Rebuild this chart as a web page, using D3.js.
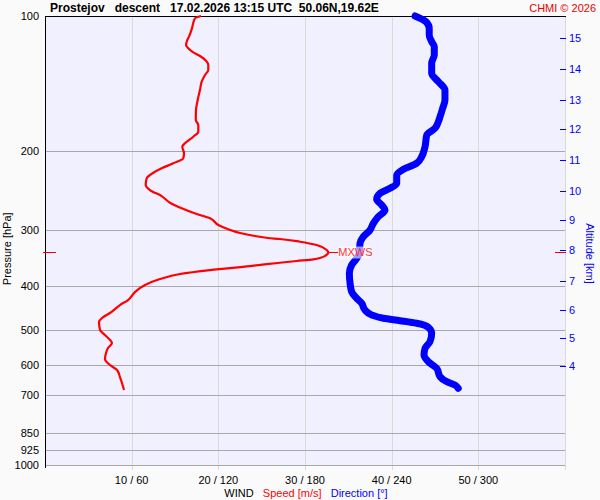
<!DOCTYPE html>
<html>
<head>
<meta charset="utf-8">
<script src="https://cdn.jsdelivr.net/npm/d3@7"></script>
<style>
  body { margin: 0; background: #fafafa; }
  svg { display: block; font-family: "Liberation Sans", Arial, sans-serif; }
</style>
</head>
<body>
<svg width="600" height="500"></svg>
<script>

// wind speed profile [hPa, m/s]
const speedP = [100, 101.2, 103.8, 107.4, 110.2, 114.1, 116.0, 118.0, 120.5, 122.8, 125.8, 128.6, 131.9, 135.3, 140.0,
   146.2, 153.8, 162.0, 170.4, 174.9, 181.0, 185.7, 192.1, 195.5, 202.2, 207.4, 212.8, 218.4, 223.4, 229.9, 237.9,
   244.1, 251.8, 260.5, 268.1, 276.1, 282.2, 292.1, 298.6, 304.3, 309.0, 312.2, 313.8, 318.2, 323.6, 332.0, 336.0,
   342.4, 348.3, 351.3, 354.4, 360.5, 368.0, 375.5, 385.3, 397.3, 411.9, 429.1, 440.3, 458.7, 470.6, 480.4, 500.5,
   513.5, 526.8, 535.0, 548.9, 563.1, 580.7, 598.9, 614.4, 636.9, 656.8, 680.8]
const speed = [18.0, 17.3, 17.1, 16.9, 16.7, 16.35, 16.27, 16.53, 17.11, 17.88, 18.58, 18.84, 18.84, 18.46, 18.08,
   17.88, 17.62, 17.42, 17.4, 17.69, 17.69, 17.11, 16.15, 15.84, 16.04, 15.96, 14.8, 13.46, 12.5, 11.73, 11.62,
   12.11, 13.46, 14.42, 15.77, 17.5, 19.04, 20.0, 21.15, 22.5, 24.23, 25.73, 27.11, 29.42, 31.35, 32.5, 32.69,
   32.3, 30.96, 29.04, 27.11, 23.65, 19.04, 15.58, 13.27, 11.54, 10.38, 9.58, 8.65, 7.5, 6.58, 6.23, 6.35,
   6.92, 7.5, 7.73, 7.27, 7.04, 6.92, 7.5, 8.31, 8.65, 8.88, 9.12]

// wind direction profile [hPa, deg]
const dirP = [100, 103.0, 106.5, 110.2, 114.1, 117.0, 122.1, 127.4, 134.2, 140.0, 146.2, 153.8, 160.6, 167.6, 172.0,
   177.9, 184.1, 195.5, 205.7, 212.8, 219.5, 226.1, 235.9, 242.0, 248.3, 256.0, 263.6, 270.4, 279.9, 289.6, 299.7,
   310.1, 320.8, 337.7, 346.5, 358.6, 374.1, 393.9, 411.2, 425.4, 436.5, 451.7, 463.4, 471.3, 477.1, 483.5, 493.5,
   509.0, 531.4, 549.7, 568.9, 588.8, 609.1, 635.9, 652.4, 663.5, 674.9]
const direction = [256.2, 263.8, 266.0, 266.0, 267.7, 269.5, 269.5, 267.7, 267.7, 272.3, 276.9, 276.9, 275.3, 273.5, 272.3,
   270.0, 264.3, 263.1, 260.8, 257.3, 248.1, 243.5, 243.5, 238.8, 231.9, 229.6, 233.1, 235.4, 230.7, 227.3, 225.0,
   220.4, 218.1, 217.6, 215.8, 212.3, 210.7, 211.2, 212.3, 215.8, 219.3, 221.5, 226.2, 234.2, 245.8, 257.3, 265.4,
   267.7, 266.5, 263.1, 262.4, 265.4, 271.2, 273.5, 278.1, 283.8, 286.1]

const pressureTicks = [100, 200, 300, 400, 500, 600, 700, 850, 925, 1000]
const speedTicks = [10, 20, 30, 40, 50]
const altKm = [15, 14, 13, 12, 11, 10, 9, 8, 7, 6, 5, 4]
const altP = [112.1, 131.4, 153.8, 178.5, 209.3, 244.9, 284.6, 332.0, 389.2, 451.7, 522.2, 602.0]

const title = "Prostejov   descent   17.02.2026 13:15 UTC  50.06N,19.62E"

const pLeft = 45, pRight = 565, pTop = 16, pBottom = 465

const svg = d3.select("svg")

const x = d3.scaleLinear().domain([0, 60]).range([pLeft, pRight])
const xd = d3.scaleLinear().domain([0, 360]).range([pLeft, pRight])
const y = d3.scaleLog().domain([100, 1000]).range([pTop, pBottom])

svg.append("rect")
   .attr("x", pLeft).attr("y", pTop)
   .attr("width", pRight - pLeft).attr("height", pBottom - pTop)
   .attr("fill", "#f0f0ff")

// vertical grid
svg.append("g")
   .selectAll("line")
   .data(speedTicks.concat([60]))
   .join("line")
   .attr("x1", d => Math.round(x(d)) + 0.5).attr("x2", d => Math.round(x(d)) + 0.5)
   .attr("y1", pTop).attr("y2", pBottom + 5)
   .attr("stroke", "#d9d9d9")

// pressure lines
svg.append("g")
   .selectAll("line")
   .data(pressureTicks.slice(1))
   .join("line")
   .attr("x1", pLeft).attr("x2", pRight)
   .attr("y1", d => Math.round(y(d)) + 0.5).attr("y2", d => Math.round(y(d)) + 0.5)
   .attr("stroke", "#a8a8a8")

svg.append("line")
   .attr("x1", pLeft).attr("x2", pRight + 1)
   .attr("y1", pTop + 0.5).attr("y2", pTop + 0.5)
   .attr("stroke", "#000")
svg.append("line")
   .attr("x1", pLeft + 0.5).attr("x2", pLeft + 0.5)
   .attr("y1", pTop).attr("y2", pBottom + 3)
   .attr("stroke", "#000")

svg.append("g")
   .attr("font-size", "11px")
   .attr("text-anchor", "end")
   .selectAll("text")
   .data(pressureTicks)
   .join("text")
   .attr("x", 39)
   .attr("y", d => y(d))
   .attr("dy", "0.35em")
   .text(d => d)

svg.append("g")
   .attr("font-size", "11px")
   .attr("text-anchor", "middle")
   .selectAll("text")
   .data(speedTicks)
   .join("text")
   .attr("x", d => x(d))
   .attr("y", 483.5)
   .text(d => `${d} / ${Math.round(xd.invert(x(d)))}`)

const legend = svg.append("text")
   .attr("font-size", "11px")
   .attr("text-anchor", "middle")
   .attr("x", 306).attr("y", 497)
   .attr("xml:space", "preserve")
legend.append("tspan").attr("fill", "#000").text("WIND   ")
legend.append("tspan").attr("fill", "#f00").text("Speed [m/s]   ")
legend.append("tspan").attr("fill", "#00f").text("Direction [°]")

svg.append("text")
   .attr("font-size", "11px")
   .attr("text-anchor", "middle")
   .attr("transform", `translate(11,${y(330)}) rotate(-90)`)
   .text("Pressure [hPa]")

// altitude axis
const alt = svg.append("g")
   .selectAll("g")
   .data(altKm.map((k, i) => ({ k, p: altP[i] })))
   .join("g")
   .attr("transform", d => `translate(0,${Math.round(y(d.p)) + 0.5})`)
alt.append("line")
   .attr("x1", pRight - 5).attr("x2", pRight + 1)
   .attr("stroke", "#00f")
alt.append("text")
   .attr("x", pRight + 4)
   .attr("dy", "0.35em")
   .attr("font-size", "11px")
   .attr("fill", "#00f")
   .text(d => d.k)

svg.append("text")
   .attr("font-size", "11px")
   .attr("fill", "#00f")
   .attr("text-anchor", "middle")
   .attr("transform", `translate(586,${y(338)}) rotate(90)`)
   .text("Altitude [km]")

// profiles
const speedLine = d3.line()
   .x((d, i) => x(speed[i]))
   .y(d => y(d))
   .curve(d3.curveMonotoneY)

const dirLine = d3.line()
   .x((d, i) => xd(direction[i]))
   .y(d => y(d))
   .curve(d3.curveMonotoneY)

svg.append("path")
   .attr("d", speedLine(speedP))
   .attr("fill", "none")
   .attr("stroke", "#f00")
   .attr("stroke-width", 2.2)
   .attr("stroke-linejoin", "round")

svg.append("path")
   .attr("d", dirLine(dirP))
   .attr("fill", "none")
   .attr("stroke", "#00f")
   .attr("stroke-width", 7)
   .attr("stroke-linecap", "round")
   .attr("stroke-linejoin", "round")

// max wind
const iMax = d3.maxIndex(speed)
const yMax = Math.round(y(speedP[iMax])) + 0.5

svg.append("line")
   .attr("x1", 43).attr("x2", 56)
   .attr("y1", yMax).attr("y2", yMax)
   .attr("stroke", "#e00")
svg.append("line")
   .attr("x1", pRight - 10).attr("x2", pRight + 1)
   .attr("y1", yMax).attr("y2", yMax)
   .attr("stroke", "#e00")
svg.append("line")
   .attr("x1", x(speed[iMax])).attr("x2", x(speed[iMax]) + 10)
   .attr("y1", yMax).attr("y2", yMax)
   .attr("stroke", "#f00")
svg.append("rect")
   .attr("x", x(speed[iMax]) + 10).attr("y", yMax - 6)
   .attr("width", 32).attr("height", 12)
   .attr("fill", "#fff").attr("fill-opacity", 0.6)
svg.append("text")
   .attr("x", x(speed[iMax]) + 10).attr("y", yMax)
   .attr("dy", "0.35em")
   .attr("font-size", "11px")
   .attr("fill", "#f33")
   .text("MXWS")

svg.append("text")
   .attr("x", 50).attr("y", 12)
   .attr("font-size", "12px")
   .attr("font-weight", "bold")
   .attr("xml:space", "preserve")
   .text(title)

svg.append("text")
   .attr("x", 596).attr("y", 12)
   .attr("font-size", "11px")
   .attr("fill", "#e00")
   .attr("text-anchor", "end")
   .text("CHMI © 2026")

</script>
</body>
</html>
